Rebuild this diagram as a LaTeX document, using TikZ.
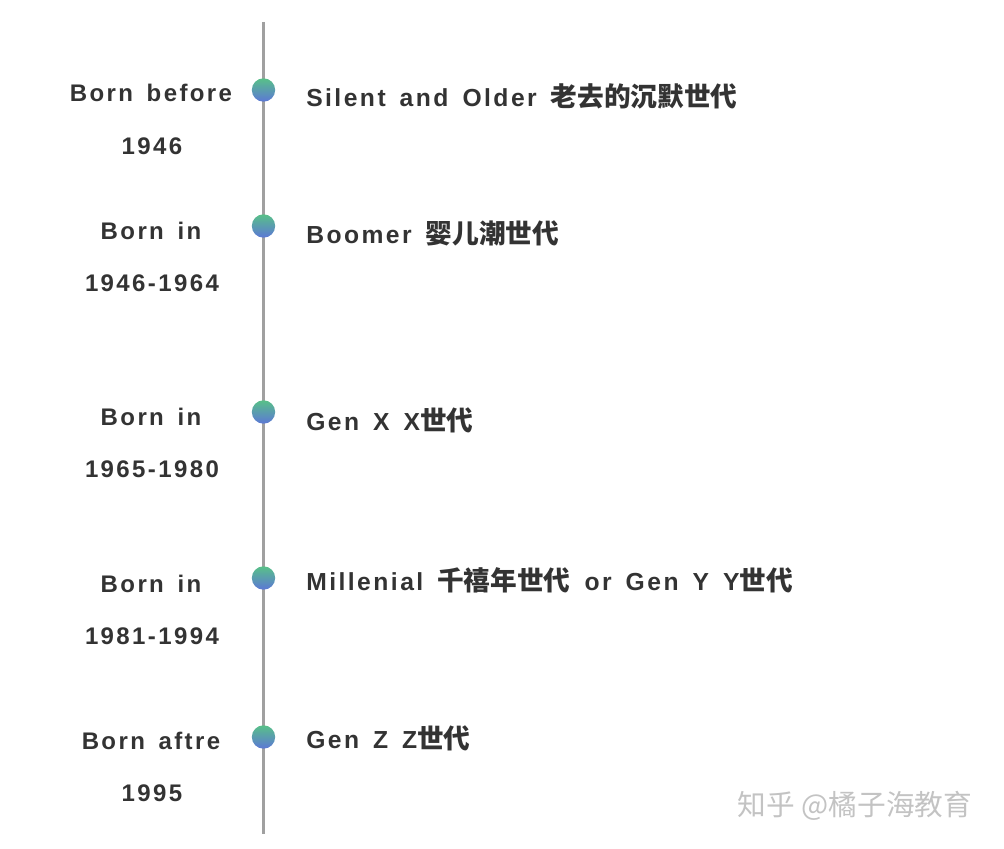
\documentclass[tikz,border=0pt]{standalone}
\usepackage{fontspec}
\usepackage{xcolor}
\setmainfont{Liberation Sans}
\newfontfamily\lab{Liberation Sans}[LetterSpace=10,WordSpace=1.5]
\newfontfamily\cjk{Noto Sans CJK SC}
\newcommand{\zh}[1]{{\cjk\fontsize{20}{22}\selectfont #1}}

\definecolor{txtgray}{RGB}{51,51,51}
\definecolor{axisgray}{RGB}{160,160,160}
\definecolor{dotgreen}{RGB}{88,192,136}
\definecolor{dotblue}{RGB}{92,120,214}
\definecolor{markgray}{RGB}{195,195,195}

\tikzset{
  lefttext/.style={anchor=base, inner sep=0.75pt, text=txtgray, font=\lab\bfseries\fontsize{18}{20}\selectfont},
  righttext/.style={anchor=base west, inner sep=0.75pt, text=txtgray, font=\lab\bfseries\fontsize{18.5}{20}\selectfont},
  tdot/.style={circle, minimum size=17.5pt, inner sep=0pt, top color=dotgreen, bottom color=dotblue}
}

\begin{document}
\begin{tikzpicture}[x=0.75pt,y=0.75pt,yscale=-1,xscale=1]
\useasboundingbox (0,0) rectangle (1004,849);

%Straight Lines
\coordinate (axtop) at (263,22);
\coordinate (axbot) at (263,834);
\draw [color=axisgray, line width=2.25pt] (axtop) -- (axbot);

%Shape: Circle
\node [tdot] (d1) at (263.5,90) {};
\node [tdot] (d2) at (263.5,226) {};
\node [tdot] (d3) at (263.5,412) {};
\node [tdot] (d4) at (263.5,578) {};
\node [tdot] (d5) at (263.5,737) {};

% Text Node
\node [lefttext] (l1a) at (151,102) {Born before};
\node [lefttext] (l1b) at (152,154) {1946};
\node [righttext] (r1) at (305,107) {Silent and Older \zh{老去的沉默世代}};
% Text Node
\node [lefttext] (l2a) at (151,239) {Born in};
\node [lefttext] (l2b) at (152,291) {1946-1964};
\node [righttext] (r2) at (305,243) {Boomer \zh{婴儿潮世代}};
% Text Node
\node [lefttext] (l3a) at (151,425) {Born in};
\node [lefttext] (l3b) at (152,477) {1965-1980};
\node [righttext] (r3) at (305,430) {Gen X X\zh{世代}};
% Text Node
\node [lefttext] (l4a) at (151,592) {Born in};
\node [lefttext] (l4b) at (152,644) {1981-1994};
\node [righttext] (r4) at (305,590) {Millenial \zh{千禧年世代} or Gen Y Y\zh{世代}};
% Text Node
\node [lefttext] (l5a) at (151,749) {Born aftre};
\node [lefttext] (l5b) at (152,801) {1995};
\node [righttext] (r5) at (305,748) {Gen Z Z\zh{世代}};

% Text Node
\node [anchor=center, inner sep=0.75pt, text=markgray, font=\cjk\fontsize{21.5}{23}\selectfont] (mark) at (855,806) {知乎 @橘子海教育};

\end{tikzpicture}
\end{document}
